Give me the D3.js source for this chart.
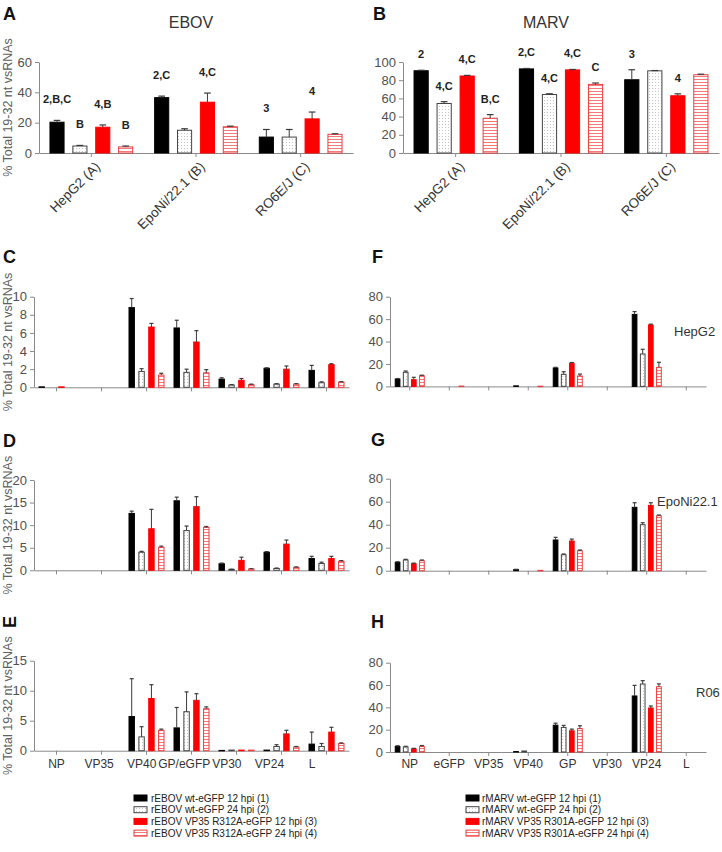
<!DOCTYPE html>
<html><head><meta charset="utf-8">
<script src="https://cdn.jsdelivr.net/npm/d3@7"></script>
<style>body{margin:0;background:#fff} svg{display:block} text{font-family:"Liberation Sans",Arial,sans-serif}</style>
</head><body><svg id="c" width="722" height="852"></svg>
<script>
// ---------------- DATA ----------------
const ebovSeries = ["rEBOV wt-eGFP 12 hpi (1)", "rEBOV wt-eGFP 24 hpi (2)", "rEBOV VP35 R312A-eGFP 12 hpi (3)", "rEBOV VP35 R312A-eGFP 24 hpi (4)"];
const marvSeries = ["rMARV wt-eGFP 12 hpi (1)", "rMARV wt-eGFP 24 hpi (2)", "rMARV VP35 R301A-eGFP 12 hpi (3)", "rMARV VP35 R301A-eGFP 24 hpi (4)"];
const cellLines = ["HepG2 (A)", "EpoNi/22.1 (B)", "RO6E/J (C)"];
const ebovGenes = ["NP", "VP35", "VP40", "GP/eGFP", "VP30", "VP24", "L"];
const marvGenes = ["NP", "eGFP", "VP35", "VP40", "GP", "VP30", "VP24", "L"];

// Panel A (EBOV totals) – per cell line, 4 series
const ebovTotalMean = [[20.3, 4.6, 17.0, 4.0], [36.5, 15.0, 33.5, 17.3], [10.5, 10.5, 22.5, 12.3]];
const ebovTotalSD   = [[1.2, 0.4, 1.5, 0.6], [1.0, 1.0, 6.0, 0.4], [5.0, 5.0, 4.5, 0.4]];
const ebovTotalSig  = [["2,B,C", "B", "4,B", "B"], ["2,C", "", "4,C", ""], ["3", "", "4", ""]];
// Panel B (MARV totals)
const marvTotalMean = [[90.4, 54.4, 84.6, 38.2], [92.4, 64.3, 91.3, 75.4], [80.5, 90.3, 62.9, 86.0]];
const marvTotalSD   = [[0.5, 2.0, 0.7, 4.0], [0.5, 0.8, 0.5, 1.5], [11.0, 0.3, 2.1, 0.6]];
const marvTotalSig  = [["2", "4,C", "4,C", "B,C"], ["2,C", "4,C", "4,C", "C"], ["3", "", "4", ""]];

// Panel C (EBOV, HepG2) – per gene
const ebovHepG2Mean = [[0.05, 0, 0.05, 0], [0, 0, 0, 0], [8.8, 1.75, 6.65, 1.35], [6.55, 1.65, 5.0, 1.6], [0.9, 0.25, 0.77, 0.3], [2.1, 0.35, 2.0, 0.35], [1.87, 0.5, 2.5, 0.58]];
const ebovHepG2SD   = [[0, 0, 0, 0], [0, 0, 0, 0], [1.0, 0.3, 0.4, 0.2], [0.85, 0.35, 1.25, 0.35], [0.15, 0.05, 0.2, 0.05], [0.05, 0.05, 0.35, 0.05], [0.55, 0.1, 0.1, 0.04]];
// Panel D (EBOV, EpoNi/22.1)
const ebovEpoNiMean = [[0, 0, 0, 0], [0, 0, 0, 0], [12.6, 4.0, 9.2, 5.1], [15.4, 8.8, 14.1, 9.5], [1.45, 0.2, 2.2, 0.3], [4.0, 0.4, 5.8, 0.65], [2.6, 1.5, 2.6, 2.0]];
const ebovEpoNiSD   = [[0, 0, 0, 0], [0, 0, 0, 0], [0.5, 0.2, 4.3, 0.25], [0.8, 1.0, 2.2, 0.2], [0.15, 0.05, 0.7, 0.05], [0.15, 0.1, 0.9, 0.1], [0.5, 0.3, 0.5, 0.15]];
// Panel E (EBOV, RO6E/J)
const ebovR06Mean = [[0, 0, 0, 0], [0, 0, 0, 0], [5.7, 2.3, 8.7, 3.4], [3.8, 6.5, 8.4, 7.0], [0.05, 0.1, 0.1, 0.1], [0.1, 0.7, 2.8, 0.6], [1.1, 0.7, 3.1, 1.2]];
const ebovR06SD   = [[0, 0, 0, 0], [0, 0, 0, 0], [6.3, 1.7, 2.3, 0.2], [3.4, 3.3, 1.1, 0.3], [0, 0, 0, 0], [0, 0.3, 0.6, 0.1], [2.0, 0.5, 0.8, 0.1]];
// Panel F (MARV, HepG2)
const marvHepG2Mean = [[6.6, 12.6, 6.0, 9.6], [0, 0, 0, 0.3], [0, 0, 0, 0], [0.5, 0, 0, 0.2], [16.4, 10.8, 20.6, 9.3], [0, 0, 0, 0], [64.2, 28.9, 54.8, 17.0], [0, 0, 0, 0]];
const marvHepG2SD   = [[0.4, 1.1, 2.1, 0.4], [0, 0, 0, 0], [0, 0, 0, 0], [0, 0, 0, 0], [0.6, 2.3, 0.7, 1.7], [0, 0, 0, 0], [2.5, 4.2, 0.7, 4.5], [0, 0, 0, 0]];
// Panel G (MARV, EpoNi22.1)
const marvEpoNiMean = [[7.3, 9.3, 6.1, 8.7], [0, 0, 0, 0], [0, 0, 0, 0], [1.0, 0, 0, 0.3], [26.7, 13.9, 25.8, 17.4], [0, 0, 0, 0], [55.1, 40.0, 56.8, 47.8], [0, 0, 0, 0]];
const marvEpoNiSD   = [[0.5, 0.6, 0.5, 0.6], [0, 0, 0, 0], [0, 0, 0, 0], [0.2, 0, 0, 0], [2.3, 0.6, 1.7, 0.6], [0, 0, 0, 0], [4.0, 1.7, 2.3, 0.6], [0, 0, 0, 0]];
// Panel H (MARV, R06)
const marvR06Mean = [[5.0, 4.5, 2.8, 5.0], [0, 0, 0, 0], [0, 0, 0, 0], [0.4, 0.9, 0, 0], [24.0, 22.0, 19.0, 21.0], [0, 0, 0, 0], [50.2, 60.9, 39.4, 58.5], [0, 0, 0, 0]];
const marvR06SD   = [[0.6, 0.6, 0.5, 0.8], [0, 0, 0, 0], [0, 0, 0, 0], [0, 0, 0, 0], [1.8, 1.8, 1.5, 2.5], [0, 0, 0, 0], [9.5, 3.0, 1.8, 2.5], [0, 0, 0, 0]];

const yTicksA = [0, 20, 40, 60];
const yTicksB = [0, 20, 40, 60, 80, 100];
const yTicksC = [0, 2, 4, 6, 8, 10];
const yTicksD = [0, 5, 10, 15, 20];
const yTicksE = [0, 5, 10, 15];
const yTicksFGH = [0, 20, 40, 60, 80];
const yTitle = "% Total  19-32 nt vsRNAs";

// ---------------- DRAWING ----------------
const svg = d3.select("#c");
const defs = svg.append("defs");
const dp = defs.append("pattern").attr("id", "dots").attr("width", 3).attr("height", 3).attr("patternUnits", "userSpaceOnUse");
dp.append("rect").attr("width", 3).attr("height", 3).attr("fill", "#fff");
dp.append("rect").attr("x", 1).attr("y", 1).attr("width", 1).attr("height", 1).attr("fill", "#c4c4c4");
const hp = defs.append("pattern").attr("id", "hlines").attr("width", 4).attr("height", 3).attr("patternUnits", "userSpaceOnUse");
hp.append("rect").attr("width", 4).attr("height", 3).attr("fill", "#fff");
hp.append("rect").attr("y", 1).attr("width", 4).attr("height", 1).attr("fill", "#f47a7a");

const fills = ["#000", "url(#dots)", "#ff0000", "url(#hlines)"];
const strokes = ["#000", "#444", "#ff0000", "#ee3b3b"];
const axisCol = "#8a8a8a";
const textCol = "#505050";

function styleAxis(g) {
  g.select(".domain").attr("stroke", axisCol);
  g.selectAll(".tick line").attr("stroke", axisCol);
  g.selectAll(".tick text").attr("fill", textCol).attr("font-family", "Liberation Sans, Arial, sans-serif");
}

function panel(o) {
  const y = d3.scaleLinear().domain([0, o.max]).range([o.y0, o.y1]);
  const xb = d3.scaleBand().domain(o.cats).range([o.x0, o.x1]).paddingInner(o.pi).paddingOuter(o.po);
  const xi = d3.scaleBand().domain([0, 1, 2, 3]).range([0, xb.bandwidth()]).paddingInner(o.ipi).paddingOuter(0);
  const g = svg.append("g");
  // y axis
  const ya = g.append("g").attr("transform", `translate(${o.x0},0)`)
    .call(d3.axisLeft(y).tickValues(o.ticks).tickSize(4).tickSizeOuter(0).tickPadding(3));
  ya.selectAll(".tick text").attr("font-size", 13);
  styleAxis(ya);
  // x axis
  const xa = g.append("g").attr("transform", `translate(0,${o.y0})`)
    .call(d3.axisBottom(xb).tickSize(4).tickSizeOuter(0).tickFormat(""));
  styleAxis(xa);
  // bars
  o.mean.forEach((grp, i) => {
    grp.forEach((v, j) => {
      if (v <= 0) return;
      const bx = xb(o.cats[i]) + xi(j);
      g.append("rect").attr("x", bx + 0.5).attr("y", y(v)).attr("width", xi.bandwidth() - 1)
        .attr("height", Math.max(0.5, y(0) - y(v)))
        .attr("fill", fills[j]).attr("stroke", strokes[j]).attr("stroke-width", 1);
      const s = o.sd[i][j];
      if (s > 0) {
        const cx = bx + xi.bandwidth() / 2, cw = Math.max(2, xi.bandwidth() * 0.22);
        g.append("line").attr("x1", cx).attr("x2", cx).attr("y1", y(v)).attr("y2", y(v + s)).attr("stroke", "#3a3a3a").attr("stroke-width", 1);
        g.append("line").attr("x1", cx - cw).attr("x2", cx + cw).attr("y1", y(v + s)).attr("y2", y(v + s)).attr("stroke", "#3a3a3a").attr("stroke-width", 1.2);
      }
      if (o.sig && o.sig[i][j]) {
        g.append("text").attr("x", bx + xi.bandwidth() / 2).attr("y", y(v + o.sd[i][j]) - o.sigOff)
          .attr("text-anchor", "middle").attr("font-size", 11).attr("font-weight", "bold").attr("fill", "#222")
          .text(o.sig[i][j]);
      }
    });
  });
  if (o.rotLabels) {
    o.cats.forEach(c => {
      const cx = xb(c) + xb.bandwidth() / 2;
      g.append("text").attr("transform", `translate(${cx + 3},${o.y0 + 8}) rotate(-45)`)
        .attr("text-anchor", "end").attr("dy", "0.7em").attr("font-size", 13.5).attr("fill", "#333").text(c);
    });
  }
  if (o.yTitle) {
    g.append("text").attr("transform", `translate(12,${(o.y0 + o.y1) / 2}) rotate(-90)`)
      .attr("text-anchor", "middle").attr("font-size", 12.5).attr("fill", "#606060").text(o.yTitle);
  }
  return { xb, y };
}

function letter(t, x, yy, rot) {
  const e = svg.append("text").attr("font-size", 18).attr("font-weight", "bold").attr("fill", "#111").text(t);
  if (rot) e.attr("transform", `translate(${x},${yy}) rotate(-90)`); else e.attr("x", x).attr("y", yy);
}

// Titles and letters
svg.append("text").attr("x", 191).attr("y", 28).attr("text-anchor", "middle").attr("font-size", 16).attr("fill", "#333").text("EBOV");
svg.append("text").attr("x", 546).attr("y", 28).attr("text-anchor", "middle").attr("font-size", 16).attr("fill", "#333").text("MARV");
letter("A", 3, 20); letter("B", 373, 20);
letter("C", 3, 263); letter("D", 3, 447); letter("E", 16, 628, true);
letter("F", 372, 263); letter("G", 371, 446); letter("H", 371, 628);

panel({ x0: 39, x1: 353, y0: 153, y1: 62, max: 60, ticks: yTicksA, cats: cellLines, mean: ebovTotalMean, sd: ebovTotalSD,
  pi: 0.2, po: 0.1, ipi: 0.34, sig: ebovTotalSig, sigOff: 17, rotLabels: true, yTitle: yTitle });
panel({ x0: 403, x1: 719, y0: 153, y1: 62, max: 100, ticks: yTicksB, cats: cellLines, mean: marvTotalMean, sd: marvTotalSD,
  pi: 0.2, po: 0.1, ipi: 0.34, sig: marvTotalSig, sigOff: 12, rotLabels: true });

panel({ x0: 34, x1: 349, y0: 387.3, y1: 296.7, max: 10, ticks: yTicksC, cats: ebovGenes, mean: ebovHepG2Mean, sd: ebovHepG2SD,
  pi: 0.2, po: 0.1, ipi: 0.35, yTitle: yTitle });
panel({ x0: 34, x1: 349, y0: 570.3, y1: 480, max: 20, ticks: yTicksD, cats: ebovGenes, mean: ebovEpoNiMean, sd: ebovEpoNiSD,
  pi: 0.2, po: 0.1, ipi: 0.35, yTitle: yTitle });
const pe = panel({ x0: 34, x1: 349, y0: 750.7, y1: 660.7, max: 15, ticks: yTicksE, cats: ebovGenes, mean: ebovR06Mean, sd: ebovR06SD,
  pi: 0.2, po: 0.1, ipi: 0.35, yTitle: yTitle });

panel({ x0: 390, x1: 706, y0: 386.4, y1: 296.7, max: 80, ticks: yTicksFGH, cats: marvGenes, mean: marvHepG2Mean, sd: marvHepG2SD,
  pi: 0.24, po: 0.12, ipi: 0.3 });
panel({ x0: 390, x1: 706, y0: 570.7, y1: 478.7, max: 80, ticks: yTicksFGH, cats: marvGenes, mean: marvEpoNiMean, sd: marvEpoNiSD,
  pi: 0.24, po: 0.12, ipi: 0.3 });
const ph = panel({ x0: 390, x1: 706, y0: 752, y1: 662.7, max: 80, ticks: yTicksFGH, cats: marvGenes, mean: marvR06Mean, sd: marvR06SD,
  pi: 0.24, po: 0.12, ipi: 0.3 });

// cell-line tags on right panels
svg.append("text").attr("x", 674).attr("y", 336).attr("font-size", 13).attr("fill", "#333").text("HepG2");
svg.append("text").attr("x", 657).attr("y", 506).attr("font-size", 13).attr("fill", "#333").text("EpoNi22.1");
svg.append("text").attr("x", 696).attr("y", 697).attr("font-size", 13).attr("fill", "#333").text("R06");

// bottom category labels
const c0 = pe.xb(ebovGenes[0]) + pe.xb.bandwidth() / 2;
const xl = d3.scalePoint().domain(ebovGenes).range([c0, 312]);
ebovGenes.forEach(gn => svg.append("text").attr("x", xl(gn)).attr("y", 768).attr("text-anchor", "middle")
  .attr("font-size", 12).attr("fill", "#333").text(gn));
marvGenes.forEach(gn => svg.append("text").attr("x", ph.xb(gn) + ph.xb.bandwidth() / 2).attr("y", 768).attr("text-anchor", "middle")
  .attr("font-size", 12).attr("fill", "#333").text(gn));

// legends
function legend(names, sx, tx, y0) {
  names.forEach((n, j) => {
    const yy = y0 + j * 11.7;
    svg.append("rect").attr("x", sx).attr("y", yy - 3).attr("width", 13).attr("height", 6)
      .attr("fill", fills[j]).attr("stroke", strokes[j]).attr("stroke-width", 1);
    svg.append("text").attr("x", tx).attr("y", yy + 3.5).attr("font-size", 10).attr("fill", "#222").text(n);
  });
}
legend(ebovSeries, 134, 151, 798);
legend(marvSeries, 466, 482, 798);
</script></body></html>
